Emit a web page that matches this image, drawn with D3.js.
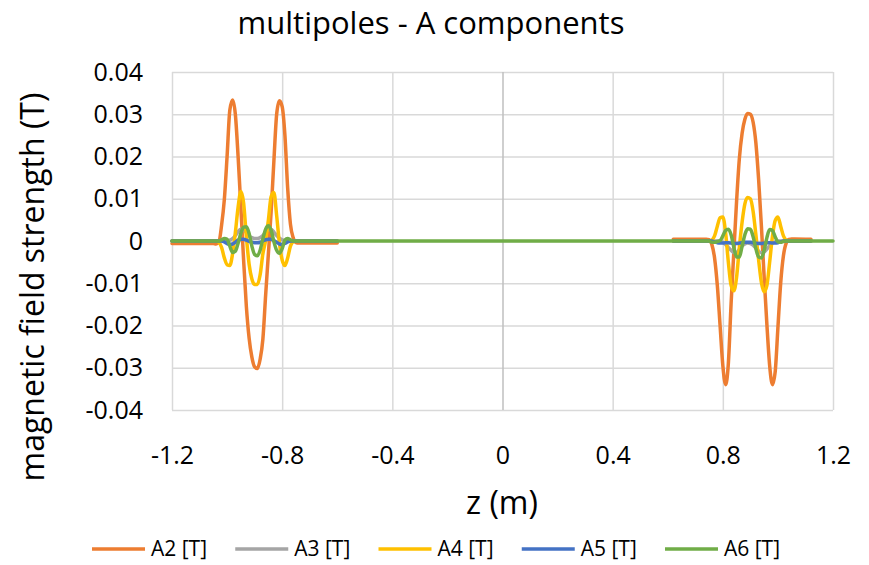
<!DOCTYPE html>
<html><head><meta charset="utf-8">
<script src="https://cdn.jsdelivr.net/npm/d3@7"></script>
<style>
body{margin:0;background:#fff}
svg{display:block}
text{font-family:"Open Sans",sans-serif;fill:#000}
</style>
</head><body>
<svg id="c" width="869" height="565"></svg>
<script>
// ---------- data ----------
const seriesNames = ["A2 [T]", "A3 [T]", "A4 [T]", "A5 [T]", "A6 [T]"];
const seriesColors = ["#ED7D31", "#A5A5A5", "#FFC000", "#4472C4", "#70AD47"];
const xTickValues = [-1.2, -0.8, -0.4, 0, 0.4, 0.8, 1.2];
const xTickLabels = ["-1.2", "-0.8", "-0.4", "0", "0.4", "0.8", "1.2"];
const yTickValues = [0.04, 0.03, 0.02, 0.01, 0, -0.01, -0.02, -0.03, -0.04];
const yTickLabels = ["0.04", "0.03", "0.02", "0.01", "0", "-0.01", "-0.02", "-0.03", "-0.04"];

// left magnet (z in m)
const zLeft = [-1.2, -1.05, -1.04, -1.03, -1.02, -1.01, -1.0, -0.99, -0.98, -0.97, -0.96, -0.95, -0.94, -0.93, -0.92, -0.91, -0.9, -0.89, -0.88, -0.87, -0.86, -0.85, -0.84, -0.83, -0.82, -0.81, -0.8, -0.79, -0.78, -0.77, -0.76, -0.75, -0.74, -0.6];
const A2Left = [-0.0006, -0.0006, -0.0007, -0.0003, 0.0037, 0.0098, 0.020, 0.031, 0.0334, 0.030, 0.020, 0.008, -0.0045, -0.0155, -0.023, -0.0275, -0.0298, -0.0302, -0.028, -0.0232, -0.0128, -0.003, 0.007, 0.019, 0.030, 0.0332, 0.0318, 0.025, 0.0125, 0.004, 0.0008, -0.0004, -0.0005, -0.0005];
const A3Left = [0, 0, 0, 0, 0, 0, 0, 0.0002, 0.0006, 0.0013, 0.0022, 0.0028, 0.0027, 0.002, 0.0012, 0.0008, 0.0006, 0.0006, 0.0008, 0.0013, 0.0021, 0.0027, 0.0028, 0.0021, 0.0013, 0.0007, 0.0003, 0.0001, 0, 0, 0, 0, 0, 0];
const A4Left = [0, 0, 0, -0.0003, -0.0015, -0.004, -0.0056, -0.0058, -0.003, 0.002, 0.008, 0.0117, 0.009, 0.001, -0.0055, -0.009, -0.0103, -0.0103, -0.008, -0.003, 0.0002, 0.005, 0.0105, 0.0115, 0.006, -0.0005, -0.0045, -0.0058, -0.004, -0.0012, -0.0002, 0, 0, 0];
const A5Left = [0, 0, 0, 0, 0, -0.0002, -0.0006, -0.0008, -0.0007, -0.0003, 0.0002, 0.0004, 0.0004, 0.0002, -0.0001, -0.0003, -0.0004, -0.0004, -0.0003, 0, 0.0003, 0.0004, 0.0004, 0.0001, -0.0003, -0.0007, -0.0008, -0.0006, -0.0002, 0, 0, 0, 0, 0];
const A6Left = [0, 0, 0, 0, 0.0003, 0.0006, 0.0004, -0.0012, -0.0027, -0.0024, -0.0005, 0.0018, 0.0033, 0.0034, 0.0018, -0.0012, -0.0032, -0.0035, -0.0022, 0.0005, 0.0028, 0.0036, 0.0025, -0.0002, -0.0022, -0.0029, -0.0018, 0.0002, 0.0006, 0.0003, 0, 0, 0, 0];

// right magnet (z in m)
const zRight = [0.62, 0.74, 0.75, 0.76, 0.77, 0.78, 0.79, 0.80, 0.81, 0.82, 0.83, 0.84, 0.85, 0.86, 0.87, 0.88, 0.89, 0.90, 0.91, 0.92, 0.93, 0.94, 0.95, 0.96, 0.97, 0.98, 0.99, 1.0, 1.01, 1.02, 1.03, 1.04, 1.05, 1.06, 1.12, 1.2];
const A2Right = [0.0004, 0.0004, 0.0003, -0.0008, -0.004, -0.0105, -0.020, -0.0295, -0.034, -0.029, -0.0148, -0.0025, 0.0095, 0.0195, 0.0255, 0.0288, 0.0302, 0.030, 0.0281, 0.0232, 0.0145, 0.0035, -0.0085, -0.0198, -0.0295, -0.034, -0.031, -0.0205, -0.010, -0.0035, -0.0005, 0.0004, 0.0005, 0.0005, 0.0004, null];
const A3Right = [0, 0, 0, 0, 0, 0, -0.0001, -0.0003, -0.0008, -0.0015, -0.0022, -0.0027, -0.0027, -0.002, -0.0012, -0.0007, -0.0005, -0.0006, -0.001, -0.0017, -0.0024, -0.0028, -0.0026, -0.0019, -0.0011, -0.0005, -0.0002, 0, 0, 0, 0, 0, 0, 0, 0, null];
const A4Right = [0, 0, 0, 0.0002, 0.0012, 0.0035, 0.0055, 0.0057, 0.002, -0.005, -0.0105, -0.0118, -0.0085, -0.0015, 0.0045, 0.0088, 0.0103, 0.010, 0.007, 0.0015, -0.0045, -0.0098, -0.012, -0.0105, -0.005, 0.001, 0.0048, 0.0057, 0.0035, 0.0012, 0.0002, 0, 0, 0, 0, null];
const A5Right = [0, 0, 0, 0, -0.0002, -0.0004, -0.0005, -0.0005, -0.0004, -0.0004, -0.0005, -0.0006, -0.0006, -0.0005, -0.0004, -0.0003, -0.0003, -0.0003, -0.0004, -0.0005, -0.0006, -0.0006, -0.0005, -0.0004, -0.0004, -0.0005, -0.0005, -0.0004, -0.0002, 0, 0, 0, 0, 0, 0, null];
const A6Right = [0, 0, 0, -0.0003, -0.0003, -0.0001, 0.0001, 0.0012, 0.0025, 0.0028, 0.0015, -0.0015, -0.0038, -0.0038, -0.0012, 0.0015, 0.0029, 0.0028, 0.001, -0.0018, -0.0038, -0.004, -0.0022, 0.0008, 0.0027, 0.0025, 0.001, -0.0002, -0.0003, -0.0001, 0, 0, 0, 0, 0, 0];

const leftData = [A2Left, A3Left, A4Left, A5Left, A6Left];
const rightData = [A2Right, A3Right, A4Right, A5Right, A6Right];

// ---------- layout ----------
const svg = d3.select("#c");
const X0 = 172, X1 = 833, Y0 = 72, Y1 = 410;
const x = d3.scaleLinear().domain([-1.2, 1.2]).range([X0, X1]);
const y = d3.scaleLinear().domain([-0.04, 0.04]).range([Y1, Y0]);

// horizontal gridlines + y labels
const yAxis = d3.axisLeft(y).tickValues(yTickValues)
  .tickFormat((d, i) => yTickLabels[i])
  .tickSize(-(X1 - X0)).tickPadding(29);
const gy = svg.append("g").attr("transform", `translate(${X0},0)`).call(yAxis);
gy.select(".domain").remove();
gy.selectAll("line").attr("stroke", "#d9d9d9").attr("stroke-width", 1.5);
gy.selectAll("text").style("font-size", "25px").attr("fill", "#000");

// vertical gridlines + x labels
const xAxis = d3.axisBottom(x).tickValues(xTickValues)
  .tickFormat((d, i) => xTickLabels[i])
  .tickSize(-(Y1 - Y0)).tickPadding(54);
const gx = svg.append("g").attr("transform", `translate(0,${Y1})`).call(xAxis);
gx.select(".domain").remove();
gx.selectAll("line").attr("stroke", d => d === 0 ? "#bfbfbf" : "#d9d9d9").attr("stroke-width", 1.5);
gx.selectAll("text").style("font-size", "25px").attr("fill", "#000").attr("dy", 0);

// ---------- lines ----------
const line = d3.line()
  .defined(d => d[1] !== null)
  .x(d => x(d[0])).y(d => y(d[1]))
  .curve(d3.curveMonotoneX);

const plot = svg.append("g");
seriesNames.forEach((name, s) => {
  const L = zLeft.map((z, i) => [z, leftData[s][i]]);
  const R = zRight.map((z, i) => [z, rightData[s][i]]);
  const segs = (s === 4) ? [L.concat(R)] : [L, R];
  segs.forEach(pts => {
    plot.append("path").datum(pts)
      .attr("d", line)
      .attr("fill", "none")
      .attr("stroke", seriesColors[s])
      .attr("stroke-width", 3.5)
      .attr("stroke-linejoin", "round")
      .attr("stroke-linecap", "round");
  });
});

// ---------- titles ----------
svg.append("text").attr("x", 431).attr("y", 34).attr("text-anchor", "middle")
  .style("font-size", "31px").text("multipoles - A components");
svg.append("text").attr("x", 502).attr("y", 514).attr("text-anchor", "middle")
  .style("font-size", "32px").text("z (m)");
svg.append("text").attr("transform", "translate(44,287) rotate(-90)").attr("text-anchor", "middle")
  .style("font-size", "32px").text("magnetic field strength (T)");

// ---------- legend ----------
const legendX = d3.scalePoint().domain(seriesNames).range([92, 665]);
const lg = svg.append("g").selectAll("g").data(seriesNames).join("g")
  .attr("transform", d => `translate(${legendX(d)},549)`);
lg.append("line").attr("x1", 0).attr("x2", 53).attr("y1", 0).attr("y2", 0)
  .attr("stroke", (d, i) => seriesColors[i]).attr("stroke-width", 3.5);
lg.append("text").attr("x", 59).attr("y", 0).attr("dy", "0.35em")
  .style("font-size", "21px").text(d => d);
</script>
</body></html>
